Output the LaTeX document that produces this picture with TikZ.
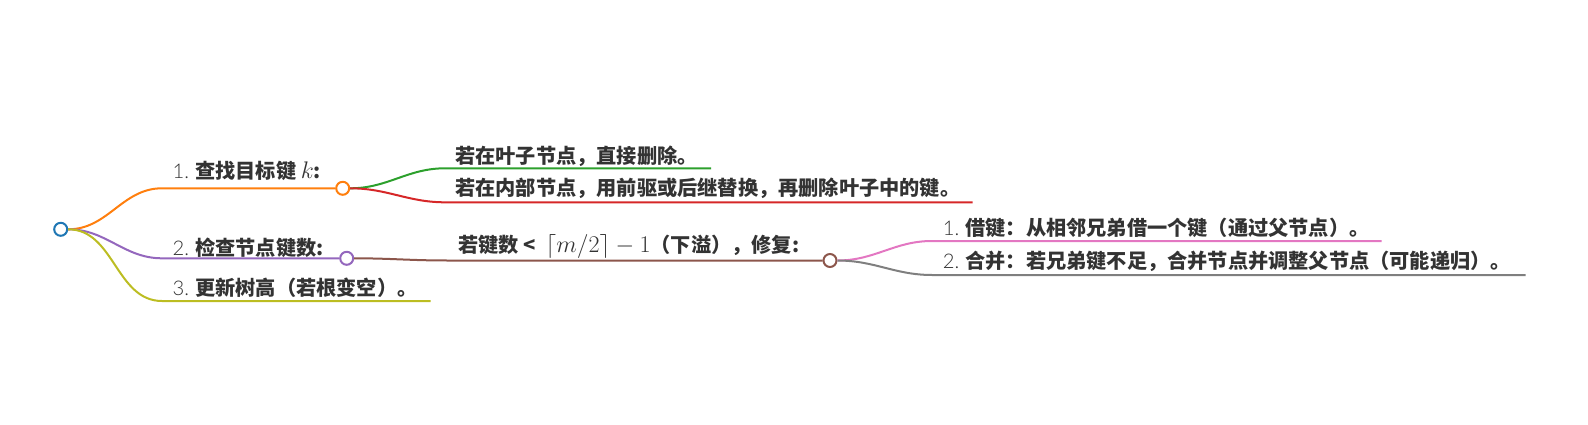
\RequirePackage{fix-cm}
\documentclass[tikz,border=0pt]{standalone}
\usepackage[no-math]{fontspec}
\setmainfont{Noto Sans CJK SC}
\newfontfamily\numfont{Lato Light}[BoldFont={Lato Light}]
\usetikzlibrary{positioning}
\definecolor{mmBlue}{RGB}{31,119,180}
\definecolor{mmOrange}{RGB}{255,127,14}
\definecolor{mmGreen}{RGB}{44,160,44}
\definecolor{mmRed}{RGB}{214,39,40}
\definecolor{mmPurple}{RGB}{148,103,189}
\definecolor{mmBrown}{RGB}{140,86,75}
\definecolor{mmPink}{RGB}{227,119,194}
\definecolor{mmGray}{RGB}{127,127,127}
\definecolor{mmOlive}{RGB}{188,189,34}
\definecolor{mmInk}{RGB}{51,51,51}
\newcommand{\mth}[1]{{\fontsize{24pt}{24pt}\selectfont$#1$}}

\begin{document}
\begin{tikzpicture}[x=1pt,y=-1pt,
  D/.style={circle,draw,fill=white,line width=2pt,minimum size=13pt,inner sep=0pt},
  L/.style={anchor=base west,inner sep=0pt,text=mmInk,
            font=\fontsize{20.2pt}{24pt}\selectfont\bfseries},
  B/.style={line width=2pt}]

\useasboundingbox (0,0) rectangle (1588,425);

% Dots
\node[D,draw=mmBlue]   (root) at (60.7,229.3) {};
\node[D,draw=mmOrange] (c1)   at (342.7,188.3) {};
\node[D,draw=mmPurple] (c2)   at (346.7,258.3) {};
\node[D,draw=mmBrown]  (c21)  at (830,260.5) {};

% Where the straight parts begin and end
\coordinate (s1) at (162,188.3);
\coordinate (s2) at (162,258.3);
\coordinate (s3) at (162,301);  \coordinate (e3) at (430.5,301);
\coordinate (s11) at (445,168.3); \coordinate (e11) at (711,168.3);
\coordinate (s12) at (445,202.3); \coordinate (e12) at (972.5,202.3);
\coordinate (s21) at (447,260.5);
\coordinate (s211) at (932,241);  \coordinate (e211) at (1381.5,241);
\coordinate (s212) at (932,275);  \coordinate (e212) at (1525.5,275);

% Texts
\node[L] (t1) at (172.5,178.5) {{\numfont 1.} 查找目标键 \mth{k}:};
\node[L] (t2) at (172.5,255.3) {{\numfont 2.} 检查节点键数:};
\node[L] (t3) at (172.5,295.5) {{\numfont 3.} 更新树高（若根变空）。};
\node[L] (t11) at (455,163.5) {若在叶子节点，直接删除。};
\node[L] (t12) at (455,195.3) {若在内部节点，用前驱或后继替换，再删除叶子中的键。};
\node[L] (t21) at (458,252) {若键数 <\hspace{10pt}\mth{\lceil m/2\rceil-1}（下溢），修复:};
\node[L] (t211) at (942.7,235.2) {{\numfont 1.} 借键：从相邻兄弟借一个键（通过父节点）。};
\node[L] (t212) at (942.7,268.5) {{\numfont 2.} 合并：若兄弟键不足，合并节点并调整父节点（可能递归）。};

% Branches
\draw[B,mmOrange] (root.east) to[out=0,in=180] (s1) -- (c1.west);
\draw[B,mmPurple] (root.east) to[out=0,in=180] (s2) -- (c2.west);
\draw[B,mmOlive]  (root.east) to[out=0,in=180] (s3) -- (e3);
\draw[B,mmGreen]  (c1.east) to[out=0,in=180] (s11) -- (e11);
\draw[B,mmRed]    (c1.east) to[out=0,in=180] (s12) -- (e12);
\draw[B,mmBrown]  (c2.east) to[out=0,in=180] (s21) -- (c21.west);
\draw[B,mmPink]   (c21.east) to[out=0,in=180] (s211) -- (e211);
\draw[B,mmGray]   (c21.east) to[out=0,in=180] (s212) -- (e212);
\end{tikzpicture}
\end{document}
